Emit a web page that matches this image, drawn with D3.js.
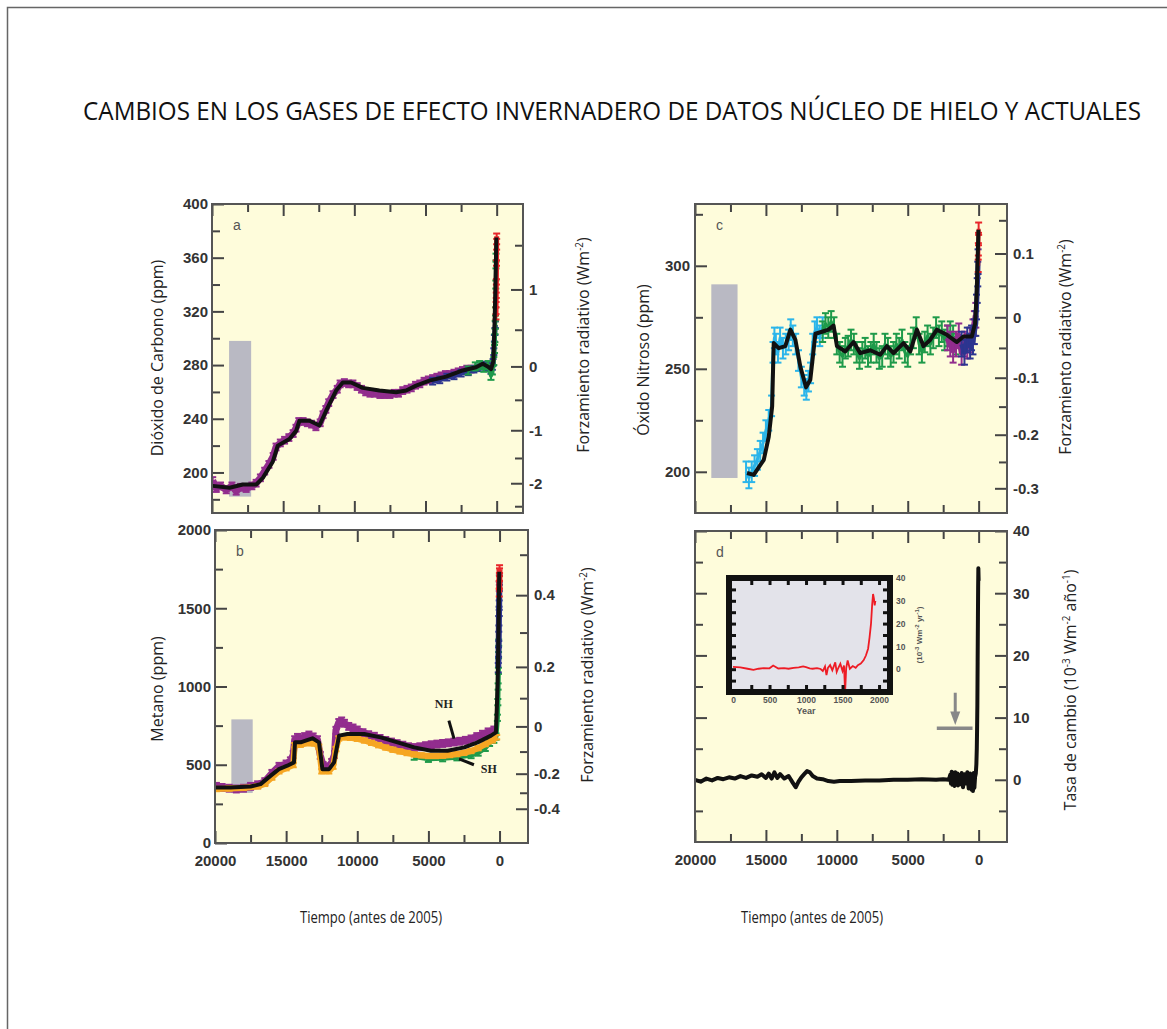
<!DOCTYPE html>
<html>
<head>
<meta charset="utf-8">
<script src="https://cdn.jsdelivr.net/npm/d3@7"></script>
<style>
  body { margin: 0; background: #fff; }
</style>
</head>
<body>
<div id="chart"></div>
<script>
// ---------- data: [years before 2005, value] ----------
var xMajor = [20000, 15000, 10000, 5000, 0],
    xMinor = [17500, 12500, 7500, 2500],
    xLabels = ["20000", "15000", "10000", "5000", "0"];

// a: carbon dioxide (ppm)
var co2Smooth = [[19940,190],[18770,188.6],[17840,191],[16900,191],[16430,196],[15730,208],[15380,220],[14560,225],[14090,231],[13860,238.5],[13150,238.5],[12450,235],[11980,246],[11280,261],[10810,267],[10225,267],[9410,263],[8240,261],[7070,259.7],[6360,261],[5660,264.7],[4730,268.4],[3550,271.4],[2390,276],[1450,278.4],[980,281],[630,279],[390,277],[230,283],[160,306],[90,336],[40,365],[20,375]];
var co2Purple = [[19950,194],[19700,188],[19400,190],[19000,187],[18600,190],[18300,186],[18000,189],[17600,188],[17200,190],[16900,192],[16600,196],[16300,201],[16000,206],[15700,212],[15500,219],[15200,222],[14900,224],[14600,226],[14300,229],[14100,233],[13900,238],[13600,238],[13300,237],[13000,236],[12700,234],[12400,237],[12200,243],[12000,247],[11800,252],[11500,258],[11200,262],[11000,266],[10700,267],[10400,266],[10100,266],[9800,264],[9500,262],[9200,260],[8900,259],[8600,259],[8200,258],[7900,258],[7500,258],[7200,259],[6900,259],[6600,261],[6300,262],[6000,263],[5700,265],[5400,266],[5100,268],[4800,269],[4500,270],[4200,271],[3900,272],[3600,273],[3300,273],[3000,274],[2700,275],[2400,276],[2100,277],[1800,277]];
var co2Blue = [[4500,268],[4000,269],[3500,271],[3000,272],[2500,274],[2000,275],[1600,277],[1300,278],[1000,280],[800,279],[600,278],[400,276],[300,279],[250,282],[200,290],[160,300],[120,305],[90,310]];
var co2Green = [[2000,276],[1500,279],[1200,280],[900,278],[600,280],[400,272],[300,276],[200,283],[150,292],[120,300],[100,310],[80,320],[60,340],[50,355],[45,360]];
var co2Red = [[47,316],[40,325],[30,332],[20,342],[10,356],[3,368],[0,376]];
var co2Bar = [182, 298], co2BarYears = [18800, 17250];
var co2Major = [400, 360, 320, 280, 240, 200], co2Minor = [380, 340, 300, 260, 220, 180];
var co2Forcing = [1, 0, -1, -2], co2ForcingMinor = [1.5, 0.5, -0.5, -1.5, -2.5],
    co2ForcingLabels = ["1", "0", "-1", "-2"];

// c: nitrous oxide (ppb)
var n2oSmooth = [[16330,199.4],[15860,198.5],[15150,205.8],[14800,217],[14560,231.7],[14450,262.5],[14100,260],[13630,261],[13270,269],[12920,264],[12570,251],[12170,241],[11870,244.7],[11510,267],[11040,268],[10580,269],[10230,271],[9990,261],[9400,258.4],[8820,263],[8350,257.6],[7640,259],[6940,256.8],[6470,261],[6000,257.6],[5300,262.5],[4820,258.4],[4350,269],[3890,261],[3420,264],[2940,269],[2240,266.5],[1535,263],[1070,265.7],[480,265.7],[250,272],[130,288],[15,317.5]];
var n2oCyan = [[16400,200],[16200,197],[16000,200],[15800,203],[15600,206],[15400,210],[15200,214],[15000,220],[14800,225],[14600,232],[14500,258],[14400,265],[14300,262],[14150,258],[14000,265],[13800,260],[13600,262],[13400,264],[13250,269],[13100,266],[12900,262],[12700,254],[12500,246],[12300,242],[12150,240],[12000,244],[11850,248],[11700,262],[11550,268],[11400,270],[11200,266],[11000,270]];
var n2oGreen = [[11000,268],[10800,272],[10600,270],[10400,273],[10200,270],[10000,262],[9800,258],[9600,256],[9400,260],[9200,261],[9000,264],[8800,262],[8600,258],[8400,255],[8200,258],[8000,260],[7800,256],[7600,258],[7400,262],[7200,258],[7000,255],[6800,256],[6600,262],[6400,260],[6200,256],[6000,258],[5800,262],[5600,260],[5400,264],[5200,258],[5000,256],[4800,262],[4600,265],[4400,270],[4200,262],[4000,258],[3800,263],[3600,266],[3400,262],[3200,265],[3000,270],[2800,266],[2600,268],[2400,264],[2200,266],[2000,268],[1800,266],[1600,262]];
var n2oPurple = [[2200,265],[2000,262],[1800,259],[1600,262],[1400,266],[1200,258],[1000,262],[800,261],[600,264],[400,268],[300,272],[200,276]];
var n2oBlue = [[1200,262],[1000,258],[800,264],[600,261],[500,265],[400,263],[300,268],[200,272],[150,280],[100,288],[60,296],[40,302]];
var n2oRed = [[30,300],[20,308],[10,313],[0,318]];
var n2oBar = [197, 291], n2oBarYears = [18850, 17000];
var n2oMajor = [300, 250, 200], n2oMinor = [325, 275, 225];
var n2oForcing = [0.1, 0, -0.1, -0.2, -0.3], n2oForcingMinor = [0.15, 0.05, -0.05, -0.15, -0.25],
    n2oForcingLabels = ["0.1", "0", "-0.1", "-0.2", "-0.3"];

// b: methane (ppb)
var ch4Smooth = [[19960,354],[18900,354],[17500,361],[16800,376],[16100,429],[15510,472],[14920,494],[14450,515],[14380,643],[13980,643],[13630,654],[13150,669],[12690,643],[12450,472],[11980,472],[11630,515],[11280,686],[10690,697],[9520,697],[8350,675],[7170,643],[6000,611],[4820,590],[3650,590],[2480,611],[1540,643],[600,686],[250,707],[130,1028],[60,1455],[20,1733]];
var ch4Purple = [[19900,362],[19500,355],[19000,350],[18500,345],[18000,350],[17500,362],[17000,372],[16500,392],[16000,445],[15500,490],[15000,505],[14700,525],[14500,565],[14400,660],[14200,675],[14000,665],[13700,680],[13400,690],[13100,678],[12800,660],[12600,560],[12400,495],[12200,485],[12000,485],[11800,515],[11600,565],[11500,720],[11300,770],[11100,780],[10900,765],[10600,745],[10300,735],[10000,722],[9600,705],[9200,692],[8800,682],[8400,668],[8000,655],[7600,645],[7200,635],[6800,625],[6400,615],[6000,610],[5600,615],[5200,622],[4800,628],[4400,632],[4000,636],[3600,640],[3200,645],[2800,650],[2400,656],[2000,665],[1600,680],[1200,695],[800,710],[400,722]];
var ch4Orange = [[19900,345],[19000,348],[18000,352],[17000,362],[16500,378],[16000,418],[15500,458],[15000,478],[14500,498],[14400,625],[14000,628],[13500,638],[13000,636],[12700,615],[12500,458],[12000,458],[11700,488],[11500,600],[11300,668],[11000,676],[10500,672],[10000,666],[9500,655],[9000,640],[8500,625],[8000,610],[7500,596],[7000,585],[6500,575],[6000,566],[5500,560],[5000,556],[4500,556],[4000,558],[3500,562],[3000,568],[2500,576],[2000,588],[1500,606],[1000,632],[500,656],[200,676]];
var ch4Green = [[6000,552],[5000,538],[4000,542],[3000,548],[2000,562],[1500,578],[1000,608],[700,640],[400,660],[250,680],[150,800],[120,900],[100,1000],[80,1100],[70,1200],[60,1280]];
var ch4Blue = [[90,1120],[70,1220],[55,1320],[45,1420],[35,1480],[25,1520],[18,1640],[12,1680]];
var ch4Red = [[20,1600],[15,1650],[10,1700],[5,1730],[0,1750]];
var ch4Bar = [320, 790], ch4BarYears = [18850, 17350];
var ch4Major = [2000, 1500, 1000, 500, 0], ch4Minor = [1750, 1250, 750, 250];
var ch4Forcing = [0.4, 0.2, 0, -0.2, -0.4], ch4ForcingMinor = [0.5, 0.3, 0.1, -0.1, -0.3],
    ch4ForcingLabels = ["0.4", "0.2", "0", "-0.2", "-0.4"];

// d: rate of change of combined forcing (10^-3 W m^-2 yr^-1)
var rateSeries = [[20000,0],[19600,-0.3],[19200,0.2],[18800,-0.1],[18400,0.3],[18000,0.1],[17600,0.4],[17200,0.2],[16800,0.6],[16400,0.3],[16000,0.7],[15600,0.5],[15300,0.9],[15000,0.3],[14800,1.0],[14600,0.2],[14400,1.2],[14200,0.3],[14000,0.9],[13700,0.2],[13400,0.6],[13100,-0.5],[12900,-1.2],[12700,-0.3],[12500,0.4],[12300,0.9],[12100,1.4],[11900,1.2],[11700,0.6],[11400,0.2],[11000,0.1],[10600,-0.2],[10200,-0.3],[9800,-0.2],[9000,-0.2],[8000,-0.1],[7000,-0.1],[6000,0],[5000,0],[4000,0.1],[3000,0],[2500,0.1],[2100,0],[2000,0.8],[1950,-0.6],[1900,1.3],[1850,-0.8],[1800,0.9],[1700,-1.0],[1650,1.2],[1600,-0.5],[1500,1.0],[1450,-0.9],[1400,0.8],[1300,-0.7],[1200,1.1],[1100,-1.2],[1000,0.9],[900,-0.6],[800,1.2],[700,-1.4],[600,1.0],[500,-1.6],[450,0.8],[400,-1.8],[350,1.1],[300,-1.3],[250,0.5],[200,1.0],[160,2.5],[130,5],[110,8],[90,12],[70,19],[50,26],[35,31],[20,34],[10,33],[0,32]];
var rateMajor = [40, 30, 20, 10, 0], rateMinor = [35, 25, 15, 5, -5],
    rateLabels = ["40", "30", "20", "10", "0"];

// d inset: rate since year 0 (calendar years)
var insetSeries = [[0,1],[100,0.8],[200,0.2],[280,-0.3],[350,0.2],[420,0.5],[500,0.4],[550,1.6],[620,0.3],[700,0.5],[760,0.2],[830,0.6],[900,0.8],[960,1.2],[1000,0.9],[1050,0.4],[1090,0.2],[1150,0.5],[1200,0.1],[1230,-0.8],[1260,1.2],[1280,-2.6],[1300,0.6],[1330,1.8],[1360,-0.5],[1400,3.0],[1420,-1.2],[1440,0.4],[1470,2.4],[1500,-0.8],[1520,1.6],[1535,-10],[1550,0.5],[1570,3.8],[1600,0.2],[1640,1.4],[1680,0.6],[1710,1.8],[1750,2.5],[1790,4],[1820,6],[1850,9],[1870,14],[1890,20],[1905,28],[1918,33],[1930,31],[1940,28],[1950,30]];
var insetXLabels = [0, 500, 1000, 1500, 2000], insetYLabels = [0, 10, 20, 30, 40];

// ---------- drawing ----------
var width = 1167, height = 1029;
var bgColor = "#fefcdb", frameColor = "#555", tickColor = "#444";
var tickFont = "'Liberation Sans', Arial, sans-serif",
    labelFont = "'Open Sans', sans-serif";

var svg = d3.select("#chart").append("svg")
  .attr("width", width)
  .attr("height", height);

// page border
svg.append("path")
  .attr("d", "M7.5," + height + " V7.5 H" + width)
  .attr("fill", "none")
  .attr("stroke", "#666")
  .attr("stroke-width", 1.5);

// title: condensed by a horizontal scale so it spans the same width as the original
var title = svg.append("text")
  .attr("text-anchor", "middle")
  .attr("font-family", labelFont)
  .attr("font-size", 25)
  .attr("fill", "#111")
  .text("CAMBIOS EN LOS GASES DE EFECTO INVERNADERO DE DATOS NÚCLEO DE HIELO Y ACTUALES");
var titleScale = 1058 / title.node().getComputedTextLength();
title.attr("transform", "translate(612,120) scale(" + titleScale + ",1)");

function makePanel(id, box, xDomain, yDomain) {
  var P = {box: box};
  P.x = d3.scaleLinear().domain(xDomain).range([box.left, box.right]);
  P.y = d3.scaleLinear().domain(yDomain).range([box.bottom, box.top]);
  P.g = svg.append("g");
  P.g.append("rect")
    .attr("x", box.left).attr("y", box.top)
    .attr("width", box.right - box.left).attr("height", box.bottom - box.top)
    .attr("fill", bgColor);
  svg.append("clipPath").attr("id", "clip-" + id).append("rect")
    .attr("x", box.left).attr("y", box.top)
    .attr("width", box.right - box.left).attr("height", box.bottom - box.top);
  P.axes = P.g.append("g");
  P.plot = P.g.append("g").attr("clip-path", "url(#clip-" + id + ")");
  return P;
}

function axis(P, side, scale, values, size, labels, pad) {
  var make = {left: d3.axisLeft, right: d3.axisRight, top: d3.axisTop, bottom: d3.axisBottom}[side];
  var ax = make(scale)
    .tickValues(values)
    .tickSizeInner(-size)
    .tickSizeOuter(0)
    .tickPadding(pad || 5)
    .tickFormat(function(d, i) { return labels ? labels[i] : ""; });
  var tr = {left: [P.box.left, 0], right: [P.box.right, 0], top: [0, P.box.top], bottom: [0, P.box.bottom]}[side];
  var a = P.axes.append("g").attr("transform", "translate(" + tr + ")").call(ax);
  a.select(".domain").remove();
  a.selectAll("line").attr("stroke", tickColor).attr("stroke-width", 2);
  a.selectAll("text")
    .attr("font-family", tickFont)
    .attr("font-weight", "bold")
    .attr("font-size", 15)
    .attr("fill", "#333");
}

function timeTicks(P, withLabels) {
  axis(P, "top", P.x, xMajor, 12);
  axis(P, "top", P.x, xMinor, 8);
  axis(P, "bottom", P.x, xMajor, 12, withLabels ? xLabels : null, 12);
  axis(P, "bottom", P.x, xMinor, 8);
}

function grayBar(P, years, range) {
  P.plot.append("rect")
    .attr("x", P.x(years[0]))
    .attr("width", P.x(years[1]) - P.x(years[0]))
    .attr("y", P.y(range[1]))
    .attr("height", P.y(range[0]) - P.y(range[1]))
    .attr("fill", "#b9b9c3");
}

function source(P, data, color, err, lw) {
  var line = d3.line().x(function(d) { return P.x(d[0]); }).y(function(d) { return P.y(d[1]); });
  P.plot.append("path")
    .datum(data)
    .attr("d", line)
    .attr("fill", "none")
    .attr("stroke", color)
    .attr("stroke-width", lw)
    .attr("stroke-linejoin", "round");
  var bars = P.plot.append("g")
    .attr("stroke", color)
    .attr("stroke-width", 2)
    .selectAll("g").data(data).enter().append("g");
  bars.append("line")
    .attr("x1", function(d) { return P.x(d[0]); })
    .attr("x2", function(d) { return P.x(d[0]); })
    .attr("y1", function(d) { return P.y(d[1] - err); })
    .attr("y2", function(d) { return P.y(d[1] + err); });
  [-err, err].forEach(function(e) {
    bars.append("line")
      .attr("x1", function(d) { return P.x(d[0]) - 3.5; })
      .attr("x2", function(d) { return P.x(d[0]) + 3.5; })
      .attr("y1", function(d) { return P.y(d[1] + e); })
      .attr("y2", function(d) { return P.y(d[1] + e); });
  });
}

function smooth(P, data, lw) {
  P.plot.append("path")
    .datum(data)
    .attr("d", d3.line().x(function(d) { return P.x(d[0]); }).y(function(d) { return P.y(d[1]); }))
    .attr("fill", "none")
    .attr("stroke", "#111")
    .attr("stroke-width", lw)
    .attr("stroke-linejoin", "round");
}

function frame(P, letter) {
  P.g.append("rect")
    .attr("x", P.box.left).attr("y", P.box.top)
    .attr("width", P.box.right - P.box.left).attr("height", P.box.bottom - P.box.top)
    .attr("fill", "none")
    .attr("stroke", frameColor)
    .attr("stroke-width", 2);
  P.g.append("text")
    .attr("x", P.box.left + 21).attr("y", P.box.top + 26)
    .attr("font-family", tickFont)
    .attr("font-size", 14)
    .attr("fill", "#555")
    .text(letter);
}

// rotated label; parts = [text, sup, text, sup, ...]
function vlabel(x, y, parts, size) {
  var t = svg.append("text")
    .attr("transform", "translate(" + x + "," + y + ") rotate(-90)")
    .attr("text-anchor", "middle")
    .attr("font-family", labelFont)
    .attr("font-size", size)
    .attr("fill", "#222");
  parts.forEach(function(p, i) {
    var s = t.append("tspan").text(p);
    if (i % 2 == 1) s.attr("dy", -6).attr("font-size", size * 0.62);
    else if (i > 0) s.attr("dy", 6);
  });
}

var purple = "#922d8e", blue = "#2d3590", green = "#1f9a4a", red = "#e8262a",
    cyan = "#2bb5ea", orange = "#f6a623";

// ---- a: CO2 ----
var A = makePanel("a", {left: 212, right: 523, top: 204, bottom: 513}, [20000, -1850], [169.8, 400]);
function co2FromF(f) { return 279 * Math.exp(f / 5.35); }
timeTicks(A, false);
axis(A, "left", A.y, co2Major, 12, co2Major.map(String), 4);
axis(A, "left", A.y, co2Minor, 8);
axis(A, "right", A.y, co2Forcing.map(co2FromF), 12, co2ForcingLabels, 6);
axis(A, "right", A.y, co2ForcingMinor.map(co2FromF), 8);
grayBar(A, co2BarYears, co2Bar);
source(A, co2Purple, purple, 2.5, 7);
source(A, co2Blue, blue, 2.5, 5);
source(A, co2Green, green, 3, 4);
source(A, co2Red, red, 2, 5);
smooth(A, co2Smooth, 4);
frame(A, "a");

// ---- c: N2O ----
var C = makePanel("c", {left: 695, right: 1007, top: 204, bottom: 513}, [20000, -2000], [180, 330]);
function n2oFromF(f) { var s = Math.sqrt(275) + f / 0.11; return s * s; }
timeTicks(C, false);
axis(C, "left", C.y, n2oMajor, 12, n2oMajor.map(String), 5);
axis(C, "left", C.y, n2oMinor, 8);
axis(C, "right", C.y, n2oForcing.map(n2oFromF), 12, n2oForcingLabels, 6);
axis(C, "right", C.y, n2oForcingMinor.map(n2oFromF), 8);
grayBar(C, n2oBarYears, n2oBar);
source(C, n2oCyan, cyan, 5, 3);
source(C, n2oGreen, green, 5, 3);
source(C, n2oPurple, purple, 6, 6);
source(C, n2oBlue, blue, 6, 5);
source(C, n2oRed, red, 3, 4);
smooth(C, n2oSmooth, 4);
frame(C, "c");

// ---- b: CH4 ----
var B = makePanel("b", {left: 215, right: 528, top: 530, bottom: 843}, [20000, -2000], [0, 2000]);
function ch4FromF(f) { var s = Math.sqrt(745) + f / 0.032; return s * s; }
timeTicks(B, true);
axis(B, "left", B.y, ch4Major, 12, ch4Major.map(String), 4);
axis(B, "left", B.y, ch4Minor, 8);
axis(B, "right", B.y, ch4Forcing.map(ch4FromF), 12, ch4ForcingLabels, 6);
axis(B, "right", B.y, ch4ForcingMinor.map(ch4FromF), 8);
grayBar(B, ch4BarYears, ch4Bar);
source(B, ch4Purple, purple, 22, 7);
source(B, ch4Green, green, 20, 5);
source(B, ch4Orange, orange, 14, 6);
source(B, ch4Blue, blue, 30, 6);
source(B, ch4Red, red, 25, 6);
smooth(B, ch4Smooth, 4);
frame(B, "b");

// NH / SH labels with pointers
[[3920, 860, "NH", 3560, 782, 3200, 667], [760, 450, "SH", 2850, 538, 1800, 500]].forEach(function(l) {
  B.g.append("text")
    .attr("x", B.x(l[0])).attr("y", B.y(l[1]))
    .attr("text-anchor", "middle")
    .attr("font-family", "'Liberation Serif', serif")
    .attr("font-weight", "bold")
    .attr("font-size", 12)
    .attr("fill", "#222")
    .text(l[2]);
  B.g.append("line")
    .attr("x1", B.x(l[3])).attr("y1", B.y(l[4]))
    .attr("x2", B.x(l[5])).attr("y2", B.y(l[6]))
    .attr("stroke", "#111").attr("stroke-width", 3);
});

// ---- d: rate of change ----
var D = makePanel("d", {left: 695, right: 1007, top: 531, bottom: 842}, [20000, -2000], [-10, 40]);
timeTicks(D, true);
axis(D, "left", D.y, rateMajor, 12);
axis(D, "left", D.y, rateMinor, 8);
axis(D, "right", D.y, rateMajor, 12, rateLabels, 6);
axis(D, "right", D.y, rateMinor, 8);
smooth(D, rateSeries, 4);

// arrow marker (year 1650, level ~9-14)
var arrowYear = 1650, arrowFrom = 14, arrowTo = 9.8, barYears = [2950, 430], barLevel = 8.3;
D.g.append("line")
  .attr("x1", D.x(arrowYear)).attr("x2", D.x(arrowYear))
  .attr("y1", D.y(arrowFrom)).attr("y2", D.y(arrowTo))
  .attr("stroke", "#888").attr("stroke-width", 3);
D.g.append("path")
  .attr("d", "M" + (D.x(arrowYear) - 5) + "," + D.y(arrowTo + 1.2) + " L" + (D.x(arrowYear) + 5) + "," + D.y(arrowTo + 1.2) + " L" + D.x(arrowYear) + "," + D.y(barLevel + 0.5) + " Z")
  .attr("fill", "#888");
D.g.append("line")
  .attr("x1", D.x(barYears[0])).attr("x2", D.x(barYears[1]))
  .attr("y1", D.y(barLevel)).attr("y2", D.y(barLevel))
  .attr("stroke", "#888").attr("stroke-width", 3.5);
frame(D, "d");

// inset
var inset = {left: 729, right: 890, top: 578, bottom: 692};
var xi = d3.scaleLinear().domain([-55, 2150]).range([inset.left, inset.right]);
var yi = d3.scaleLinear().domain([-10, 40]).range([inset.bottom, inset.top]);
var ig = svg.append("g");
ig.append("rect")
  .attr("x", inset.left).attr("y", inset.top)
  .attr("width", inset.right - inset.left).attr("height", inset.bottom - inset.top)
  .attr("fill", "#e3e3ea");
svg.append("clipPath").attr("id", "clip-inset").append("rect")
  .attr("x", inset.left).attr("y", inset.top)
  .attr("width", inset.right - inset.left).attr("height", inset.bottom - inset.top);
ig.append("path")
  .datum(insetSeries)
  .attr("clip-path", "url(#clip-inset)")
  .attr("d", d3.line().x(function(d) { return xi(d[0]); }).y(function(d) { return yi(d[1]); }))
  .attr("fill", "none")
  .attr("stroke", "#ee1c25")
  .attr("stroke-width", 1.8);
ig.append("rect")
  .attr("x", inset.left).attr("y", inset.top)
  .attr("width", inset.right - inset.left).attr("height", inset.bottom - inset.top)
  .attr("fill", "none")
  .attr("stroke", "#111")
  .attr("stroke-width", 6);

// notch ticks on the inset frame
var notchX = d3.range(250, 2150, 250), notchY = d3.range(-5, 40, 5);
[["top", d3.axisTop(xi).tickValues(notchX), [0, inset.top]],
 ["bottom", d3.axisBottom(xi).tickValues(notchX), [0, inset.bottom]],
 ["left", d3.axisLeft(yi).tickValues(notchY), [inset.left, 0]],
 ["right", d3.axisRight(yi).tickValues(notchY), [inset.right, 0]]].forEach(function(n) {
  var a = ig.append("g").attr("transform", "translate(" + n[2] + ")")
    .call(n[1].tickSizeInner(-7).tickSizeOuter(0).tickFormat(""));
  a.select(".domain").remove();
  a.selectAll("line").attr("stroke", "#111").attr("stroke-width", 3);
});

var ixa = ig.append("g").attr("transform", "translate(0," + inset.bottom + ")")
  .call(d3.axisBottom(xi).tickValues(insetXLabels).tickSize(0).tickPadding(5).tickFormat(d3.format("d")));
var iya = ig.append("g").attr("transform", "translate(" + inset.right + ",0)")
  .call(d3.axisRight(yi).tickValues(insetYLabels).tickSize(0).tickPadding(6).tickFormat(d3.format("d")));
[ixa, iya].forEach(function(a) {
  a.select(".domain").remove();
  a.selectAll("text")
    .attr("font-family", tickFont)
    .attr("font-weight", "bold")
    .attr("font-size", 8.5)
    .attr("fill", "#555");
});
ig.append("text")
  .attr("x", xi(1000)).attr("y", inset.bottom + 22)
  .attr("text-anchor", "middle")
  .attr("font-family", tickFont)
  .attr("font-weight", "bold")
  .attr("font-size", 9)
  .attr("fill", "#555")
  .text("Year");
var iyt = ig.append("text")
  .attr("transform", "translate(" + (inset.right + 32) + "," + yi(15) + ") rotate(-90)")
  .attr("text-anchor", "middle")
  .attr("font-family", tickFont)
  .attr("font-weight", "bold")
  .attr("font-size", 8)
  .attr("fill", "#555");
[["(10", 0], ["-3", -3], [" Wm", 3], ["-2", -3], [" yr", 3], ["-1", -3], [")", 3]].forEach(function(p, i) {
  iyt.append("tspan").attr("dy", p[1]).attr("font-size", i % 2 ? 6 : 8).text(p[0]);
});

// ---- axis titles ----
vlabel(163, 358, ["Dióxido de Carbono (ppm)"], 16);
vlabel(163, 689, ["Metano (ppm)"], 16);
vlabel(649, 360, ["Óxido Nitroso (ppm)"], 16);
vlabel(589, 345, ["Forzamiento radiativo (Wm", "-2", ")"], 16);
vlabel(593, 675, ["Forzamiento radiativo (Wm", "-2", ")"], 16);
vlabel(1071, 347, ["Forzamiento radiativo (Wm", "-2", ")"], 16);
vlabel(1076, 690, ["Tasa de cambio (10", "-3", " Wm", "-2", " año", "-1", ")"], 16);

[371, 812].forEach(function(cx) {
  svg.append("text")
    .attr("x", cx).attr("y", 923)
    .attr("text-anchor", "middle")
    .attr("font-family", labelFont)
    .attr("font-size", 17)
    .attr("textLength", 142)
    .attr("lengthAdjust", "spacingAndGlyphs")
    .attr("fill", "#222")
    .text("Tiempo (antes de 2005)");
});
</script>
</body>
</html>
